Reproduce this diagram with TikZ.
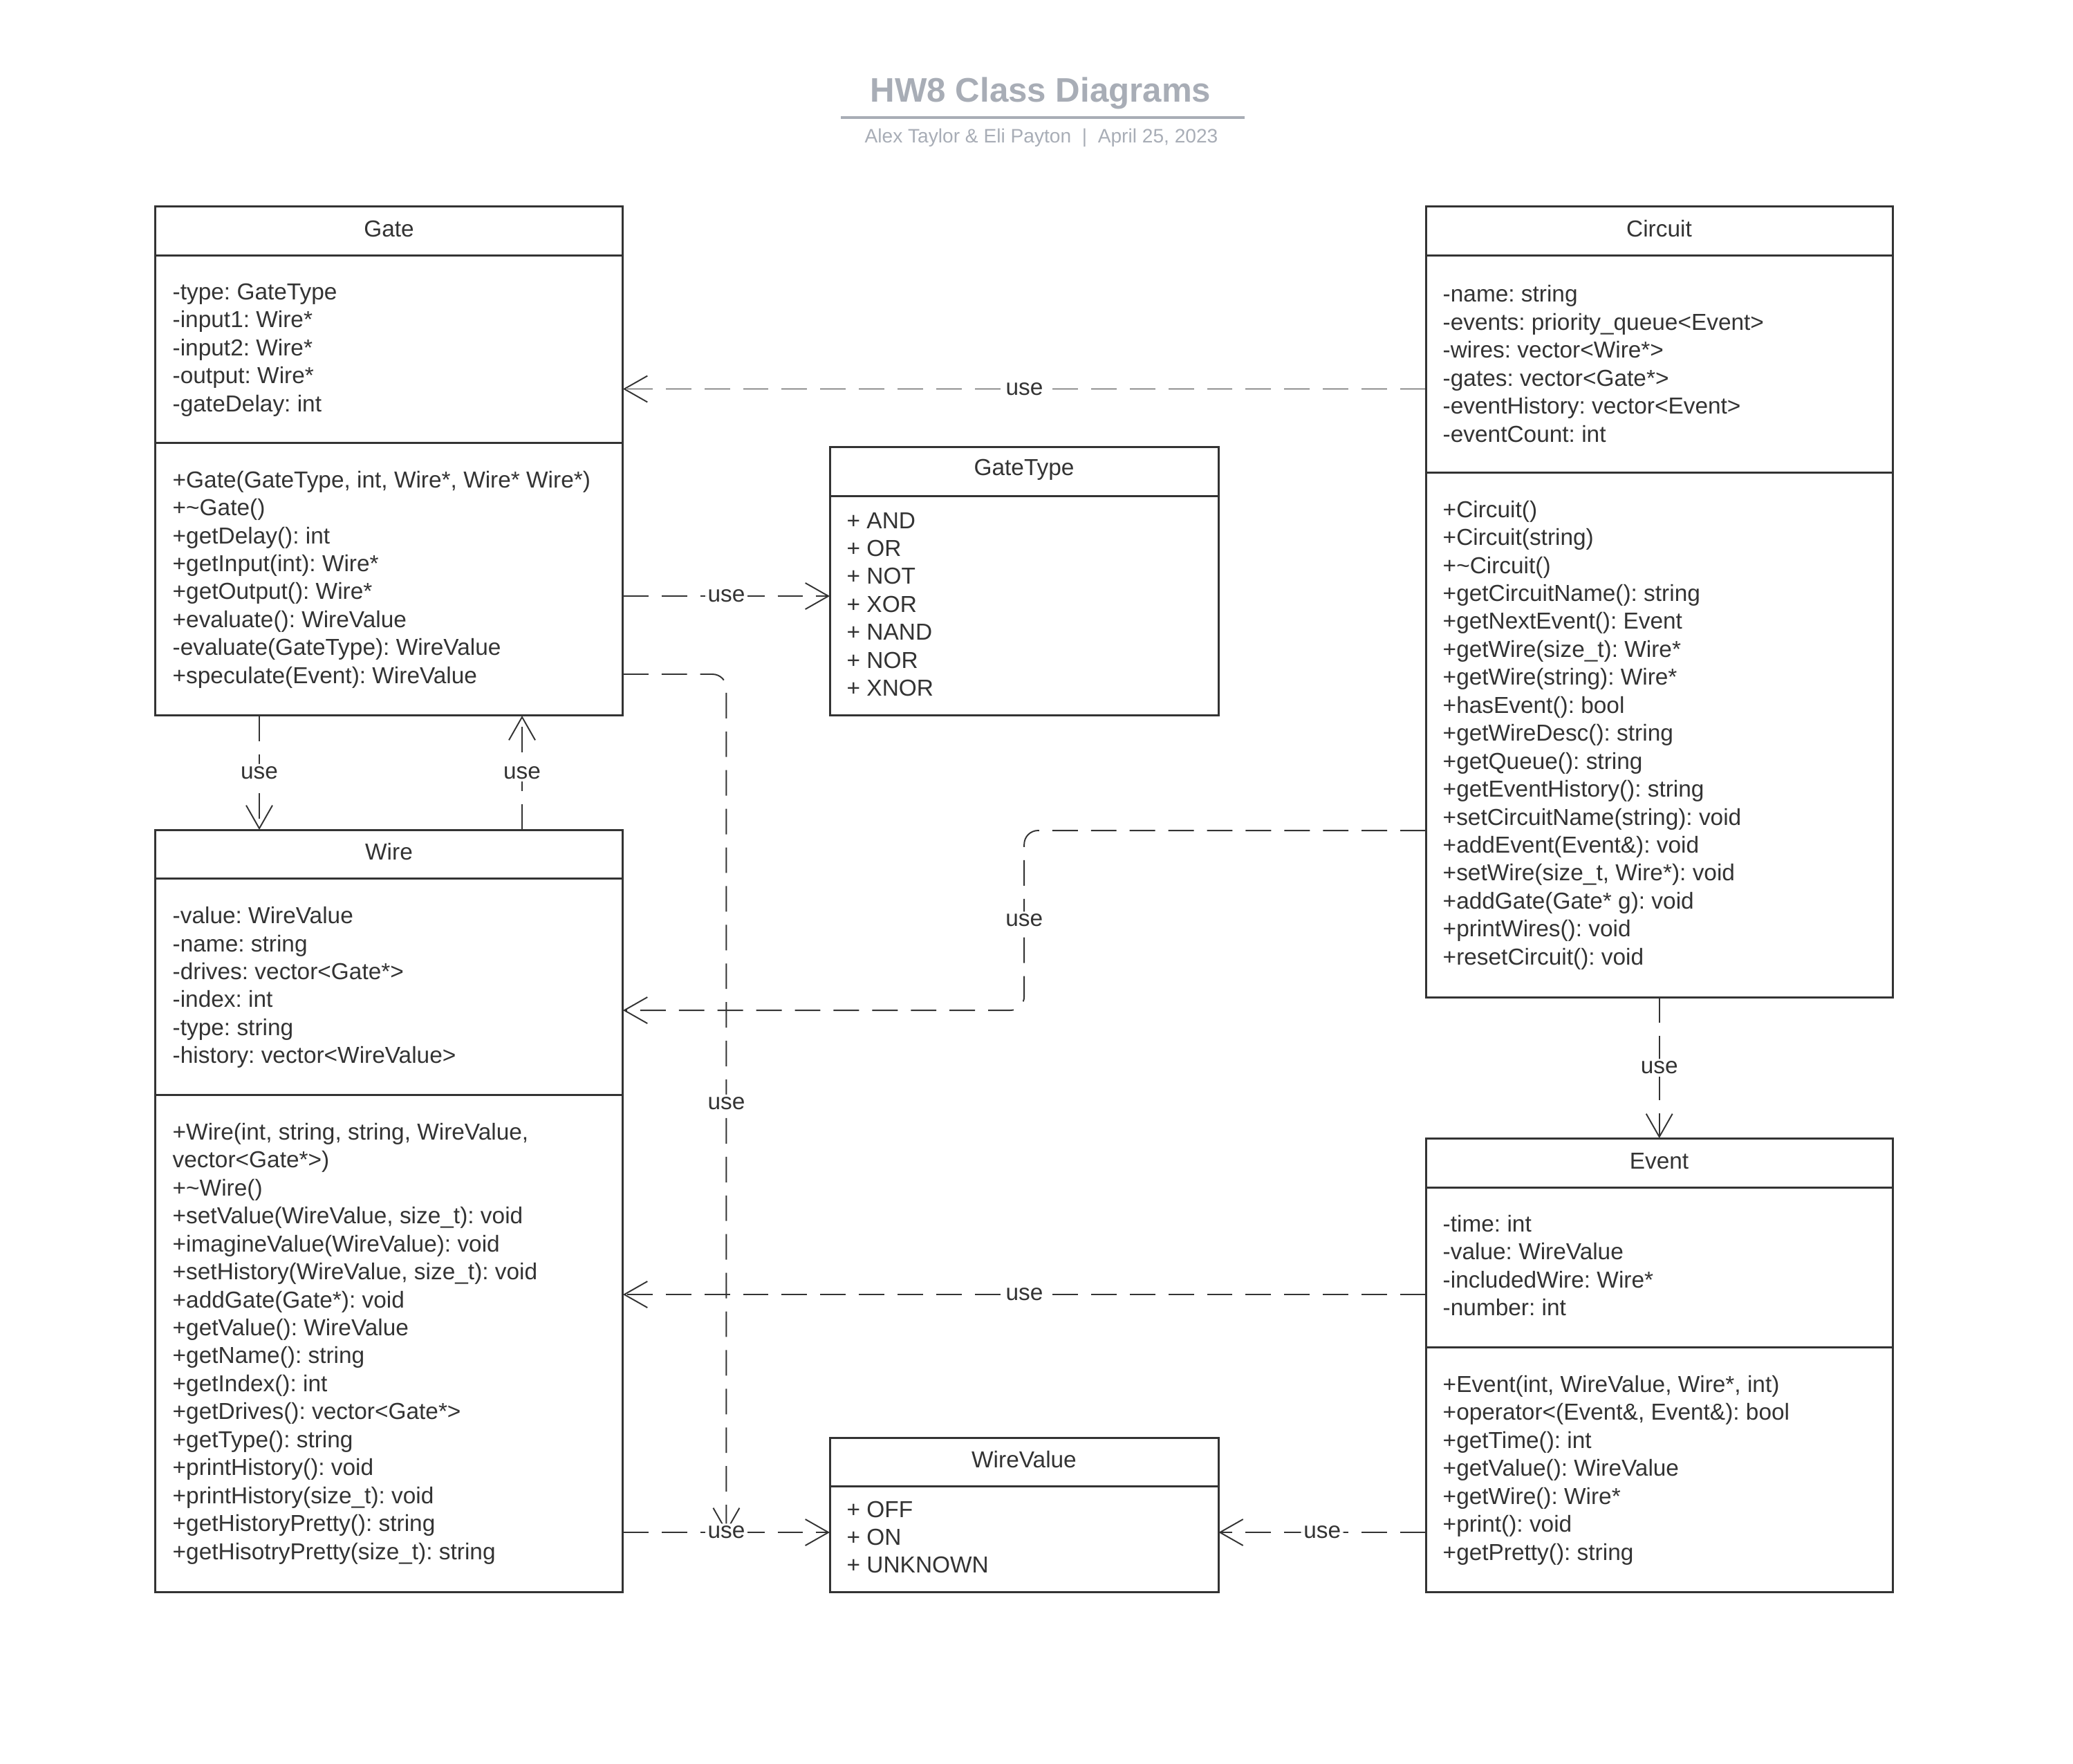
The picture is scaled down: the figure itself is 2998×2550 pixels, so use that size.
\documentclass[tikz,border=0pt]{standalone}
\usepackage{fontspec}
\setmainfont{Liberation Sans}
\usetikzlibrary{arrows.meta,calc}
\definecolor{ink}{HTML}{333333}
\definecolor{titlegray}{HTML}{A8ADB6}
\newcommand{\membfont}{\fontsize{9.5}{11.5}\selectfont\frenchspacing}
\begin{document}
\begin{tikzpicture}[x=0.01cm,y=-0.01cm,
  classbox/.style={draw=ink, line width=0.85pt, outer sep=0pt, inner sep=0pt, anchor=north west},
  divider/.style={draw=ink, line width=0.85pt},
  members/.style={anchor=west, align=left, inner sep=0pt, text=ink, font=\membfont},
  classname/.style={inner sep=0pt, text=ink, font=\membfont},
  usedep/.style={draw=ink, line width=0.55pt, dash pattern=on 10.5pt off 5.4pt,
    -{Straight Barb[length=9.5pt,width=10.8pt]}, rounded corners=5.7pt},
  uselabel/.style={fill=white, inner sep=1pt, text=ink, font=\membfont},
]
\useasboundingbox (0,0) rectangle (2998,2550);

% ---------- heading ----------
\node[font=\fontsize{14}{16}\selectfont\bfseries, text=titlegray, anchor=base] (title) at (1505,147) {HW8 Class Diagrams};
\draw[titlegray, line width=1.1pt] (1216,170) -- (1800,170);
\node[font=\fontsize{8}{10}\selectfont, text=titlegray, anchor=base] (subtitle) at (1506,206) {Alex Taylor \& Eli Payton\ \ |\ \ April 25, 2023};

% ---------- Gate ----------
\node[classbox, minimum width=6.76cm, minimum height=7.36cm] (gate) at (224.5,298.5) {};
\draw[divider] (224.5,369) -- (900.5,369);
\draw[divider] (224.5,640) -- (900.5,640);
\node[classname] (gatename) at (562.5,331) {Gate};
\node[members] (gateattr) at (249,506) {-type: GateType\\-input1: Wire*\\-input2: Wire*\\-output: Wire*\\-gateDelay: int};
\node[members] (gateops) at (249,838) {+Gate(GateType, int, Wire*, Wire* Wire*)\\+\textasciitilde Gate()\\+getDelay(): int\\+getInput(int): Wire*\\+getOutput(): Wire*\\+evaluate(): WireValue\\-evaluate(GateType): WireValue\\+speculate(Event): WireValue};

% ---------- GateType ----------
\node[classbox, minimum width=5.62cm, minimum height=3.88cm] (gatetype) at (1200,646) {};
\draw[divider] (1200,717) -- (1762,717);
\node[classname] (gatetypename) at (1481,679) {GateType};
\node[members] (gatetypelits) at (1224,874) {+ AND\\+ OR\\+ NOT\\+ XOR\\+ NAND\\+ NOR\\+ XNOR};

% ---------- Circuit ----------
\node[classbox, minimum width=6.75cm, minimum height=11.43cm] (circuit) at (2062,298.5) {};
\draw[divider] (2062,369) -- (2737,369);
\draw[divider] (2062,683) -- (2737,683);
\node[classname] (circuitname) at (2399.5,331) {Circuit};
\node[members] (circuitattr) at (2086,526) {-name: string\\-events: priority\_queue<Event>\\-wires: vector<Wire*>\\-gates: vector<Gate*>\\-eventHistory: vector<Event>\\-eventCount: int};
\node[members] (circuitops) at (2086,1063) {+Circuit()\\+Circuit(string)\\+\textasciitilde Circuit()\\+getCircuitName(): string\\+getNextEvent(): Event\\+getWire(size\_t): Wire*\\+getWire(string): Wire*\\+hasEvent(): bool\\+getWireDesc(): string\\+getQueue(): string\\+getEventHistory(): string\\+setCircuitName(string): void\\+addEvent(Event\&): void\\+setWire(size\_t, Wire*): void\\+addGate(Gate* g): void\\+printWires(): void\\+resetCircuit(): void};

% ---------- Wire ----------
\node[classbox, minimum width=6.76cm, minimum height=11.02cm] (wire) at (224.5,1200) {};
\draw[divider] (224.5,1270) -- (900.5,1270);
\draw[divider] (224.5,1583) -- (900.5,1583);
\node[classname] (wirename) at (562.5,1232) {Wire};
\node[members] (wireattr) at (249,1428) {-value: WireValue\\-name: string\\-drives: vector<Gate*>\\-index: int\\-type: string\\-history: vector<WireValue>};
\node[members] (wireops) at (249,1943) {+Wire(int, string, string, WireValue,\\vector<Gate*>)\\+\textasciitilde Wire()\\+setValue(WireValue, size\_t): void\\+imagineValue(WireValue): void\\+setHistory(WireValue, size\_t): void\\+addGate(Gate*): void\\+getValue(): WireValue\\+getName(): string\\+getIndex(): int\\+getDrives(): vector<Gate*>\\+getType(): string\\+printHistory(): void\\+printHistory(size\_t): void\\+getHistoryPretty(): string\\+getHisotryPretty(size\_t): string};

% ---------- WireValue ----------
\node[classbox, minimum width=5.62cm, minimum height=2.23cm] (wirevalue) at (1200,2079) {};
\draw[divider] (1200,2149) -- (1762,2149);
\node[classname] (wirevaluename) at (1481,2111) {WireValue};
\node[members] (wirevaluelits) at (1224,2223) {+ OFF\\+ ON\\+ UNKNOWN};

% ---------- Event ----------
\node[classbox, minimum width=6.75cm, minimum height=6.56cm] (event) at (2062,1646) {};
\draw[divider] (2062,1717) -- (2737,1717);
\draw[divider] (2062,1948) -- (2737,1948);
\node[classname] (eventname) at (2399.5,1679) {Event};
\node[members] (eventattr) at (2086,1830) {-time: int\\-value: WireValue\\-includedWire: Wire*\\-number: int};
\node[members] (eventops) at (2086,2126) {+Event(int, WireValue, Wire*, int)\\+operator<(Event\&, Event\&): bool\\+getTime(): int\\+getValue(): WireValue\\+getWire(): Wire*\\+print(): void\\+getPretty(): string};

% ---------- dependencies ----------
% Circuit uses Gate
\draw[usedep] ($(circuit.north west)+(0,264)$) -- node[uselabel]{use} ($(gate.north east)+(0,264)$);
% Gate uses GateType
\draw[usedep] ($(gate.north east)+(0,563.5)$) -- node[uselabel]{use} ($(gatetype.north west)+(0,216)$);
% Gate uses Wire / Wire uses Gate
\draw[usedep] ($(gate.south west)+(150.5,0)$) -- node[uselabel]{use} ($(wire.north west)+(150.5,0)$);
\draw[usedep] ($(wire.north west)+(530.5,0)$) -- node[uselabel]{use} ($(gate.south west)+(530.5,0)$);
% Wire uses WireValue (its middle is where Gate's link to WireValue lands)
\path ($(wire.north east)+(0,1016)$) -- coordinate[midway] (wvjoin) ($(wirevalue.north west)+(0,137)$);
\draw[usedep] ($(gate.north east)+(0,676.5)$) -| node[uselabel, pos=0.75]{use} (wvjoin);
\draw[usedep] ($(wire.north east)+(0,1016)$) -- node[uselabel]{use} ($(wirevalue.north west)+(0,137)$);
% Circuit uses Wire
\coordinate (wirelink) at ($(wire.north east)+(0,261)$);
\draw[usedep] ($(circuit.north west)+(0,902.5)$) -| node[uselabel, pos=0.75]{use} (gatetype.south |- wirelink) -- (wirelink);
% Circuit uses Event
\draw[usedep] (circuit.south) -- node[uselabel]{use} (event.north);
% Event uses Wire
\draw[usedep] ($(event.north west)+(0,226)$) -- node[uselabel]{use} ($(wire.north east)+(0,672)$);
% Event uses WireValue
\draw[usedep] ($(event.north west)+(0,570)$) -- node[uselabel]{use} ($(wirevalue.north east)+(0,137)$);
\end{tikzpicture}
\end{document}
